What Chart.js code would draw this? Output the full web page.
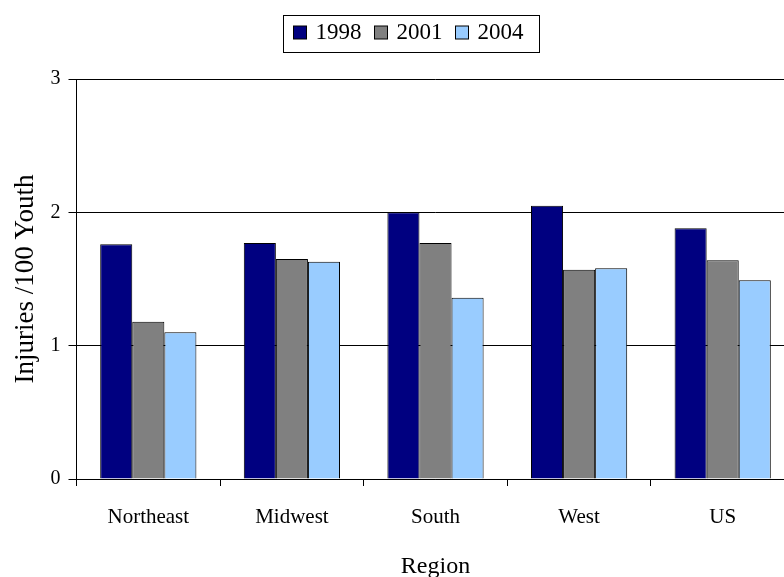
<!DOCTYPE html>
<html>
<head>
<meta charset="utf-8">
<script src="https://cdn.jsdelivr.net/npm/chart.js@4"></script>
<style>
  html, body { margin: 0; padding: 0; background: #fff; overflow: hidden; }
  #wrap { width: 784px; height: 577px; overflow: hidden; }
</style>
</head>
<body>
<div id="wrap">
  <canvas id="injuryChart" width="821" height="577"></canvas>
</div>
<script>
        // Data
        const regions = ['Northeast', 'Midwest', 'South', 'West', 'US'];
        const years = ['1998', '2001', '2004'];
        const rate1998 = [1.76, 1.77, 2.00, 2.05, 1.88];
        const rate2001 = [1.18, 1.65, 1.77, 1.57, 1.64];
        const rate2004 = [1.10, 1.63, 1.36, 1.58, 1.49];
        const yTicks = [0, 1, 2, 3];

        const serif = '"Liberation Serif", "Times New Roman", serif';

        // Legend drawn as a boxed row, like the old spreadsheet charts
        const boxLegend = {
            id: 'boxLegend',
            afterDraw(chart) {
                const ctx = chart.ctx;
                ctx.save();
                ctx.font = '23px ' + serif;
                const items = chart.data.datasets.map(ds => ({
                    text: ds.label,
                    color: ds.backgroundColor,
                    w: ctx.measureText(ds.label).width
                }));
                const mk = 13, gapText = 9, gapItem = 13, padL = 10, padR = 16;
                let total = padL + padR;
                items.forEach((it, i) => {
                    total += mk + gapText + it.w + (i < items.length - 1 ? gapItem : 0);
                });
                const left = Math.round(chart.width / 2 - total / 2) + 0.5;
                const top = 15.5, h = 37, cy = 33;
                ctx.strokeStyle = '#000';
                ctx.lineWidth = 1;
                ctx.strokeRect(left, top, Math.round(total), h);

                let x = left + padL;
                ctx.textBaseline = 'middle';
                ctx.textAlign = 'left';
                items.forEach(it => {
                    ctx.fillStyle = it.color;
                    ctx.fillRect(x, cy - 7, mk, mk);
                    ctx.strokeRect(x, cy - 7, mk, mk);
                    x += mk + gapText;
                    ctx.fillStyle = '#000';
                    ctx.fillText(it.text, x, cy);
                    x += it.w + gapItem;
                });
                ctx.restore();
            }
        };

        const ctx = document.getElementById('injuryChart').getContext('2d');
        new Chart(ctx, {
            type: 'bar',
            data: {
                labels: regions,
                datasets: [
                    { label: years[0], data: rate1998, backgroundColor: '#000080' },
                    { label: years[1], data: rate2001, backgroundColor: '#808080' },
                    { label: years[2], data: rate2004, backgroundColor: '#99CCFF' }
                ].map(ds => Object.assign(ds, {
                    borderColor: '#000',
                    borderWidth: 1,
                    borderSkipped: 'start',
                    categoryPercentage: 0.67,
                    barPercentage: 1.0
                }))
            },
            options: {
                responsive: false,
                animation: false,
                devicePixelRatio: 1,
                layout: { padding: { top: 79, right: 26.5, bottom: 0, left: 0 } },
                plugins: {
                    legend: { display: false },
                    tooltip: { enabled: false }
                },
                scales: {
                    x: {
                        afterFit: s => { s.height = 98; },
                        grid: {
                            display: true,
                            offset: true,
                            drawOnChartArea: false,
                            color: '#000',
                            tickLength: 7
                        },
                        border: { display: true, color: '#000', width: 1 },
                        ticks: {
                            color: '#000',
                            padding: 19,
                            font: { family: serif, size: 21 }
                        },
                        title: {
                            display: true,
                            text: 'Region',
                            color: '#000',
                            padding: { top: 0, bottom: -4 },
                            font: { family: serif, size: 24 }
                        }
                    },
                    y: {
                        min: 0,
                        max: 3,
                        afterFit: s => { s.width = 76.5; },
                        afterBuildTicks: s => { s.ticks = yTicks.map(v => ({ value: v })); },
                        grid: {
                            color: '#000',
                            tickLength: 8
                        },
                        border: { display: true, color: '#000', width: 1 },
                        ticks: {
                            color: '#000',
                            padding: 8,
                            font: { family: serif, size: 20 }
                        },
                        title: {
                            display: true,
                            text: 'Injuries /100 Youth',
                            color: '#000',
                            padding: { top: 10, bottom: 0 },
                            font: { family: serif, size: 27 }
                        }
                    }
                }
            },
            plugins: [boxLegend]
        });
</script>
</body>
</html>
